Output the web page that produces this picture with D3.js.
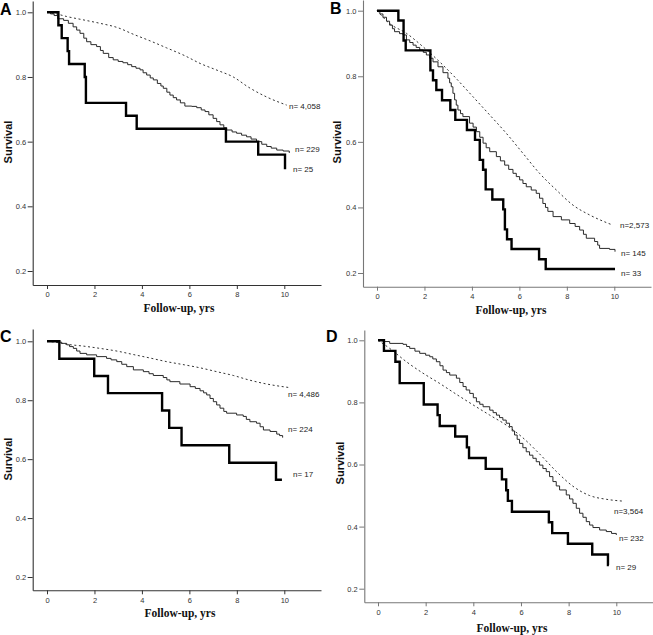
<!DOCTYPE html>
<html>
<head>
<meta charset="utf-8">
<script src="https://cdn.jsdelivr.net/npm/d3@7"></script>
<style>
html,body{margin:0;padding:0;background:#fff;}
svg{display:block;}
</style>
</head>
<body>
<svg id="chart" width="653" height="635"></svg>
<script>
// ---------------- DATA ----------------
const xTicks = [0, 2, 4, 6, 8, 10];
const yTicks = [0.2, 0.4, 0.6, 0.8, 1.0];
const panelLetters = ["A", "B", "C", "D"];
const xAxisTitle = "Follow-up, yrs";
const yAxisTitle = "Survival";

// Panel A
const aDashed = [[0,1],[0.4,0.995],[0.83,0.987],[1.5,0.977],[2.23,0.966],[3.0,0.952],[3.64,0.932],[4.3,0.913],[5.04,0.89],[5.8,0.866],[6.45,0.842],[7.2,0.82],[7.85,0.80],[8.5,0.768],[9.26,0.738],[10.1,0.713]];
const aThin = [[0,1],[0.15,0.995],[0.3,0.99],[0.45,0.98],[0.7,0.975],[0.9,0.966],[1.1,0.955],[1.25,0.945],[1.39,0.935],[1.55,0.92],[1.67,0.909],[1.85,0.9],[2.09,0.894],[2.25,0.882],[2.37,0.873],[2.6,0.86],[2.79,0.853],[3.0,0.848],[3.2,0.844],[3.4,0.838],[3.57,0.832],[3.75,0.827],[3.92,0.822],[4.05,0.813],[4.2,0.806],[4.35,0.797],[4.48,0.791],[4.65,0.78],[4.8,0.772],[4.9,0.765],[5.05,0.753],[5.18,0.744],[5.32,0.736],[5.46,0.729],[5.62,0.72],[5.81,0.71],[6.1,0.709],[6.31,0.705],[6.5,0.698],[6.66,0.693],[6.82,0.683],[7.0,0.672],[7.15,0.662],[7.29,0.652],[7.45,0.643],[7.57,0.636],[7.8,0.63],[7.99,0.626],[8.2,0.62],[8.41,0.615],[8.6,0.608],[8.83,0.6],[9.05,0.592],[9.26,0.585],[9.45,0.58],[9.68,0.574],[9.95,0.571],[10.21,0.565]];
const aThick = [[0,1],[0.48,0.96],[0.62,0.92],[0.87,0.88],[0.93,0.84],[1.59,0.80],[1.64,0.72],[3.33,0.68],[3.78,0.64],[7.54,0.60],[8.90,0.56],[10.03,0.515]];
const aLabels = ["n= 4,058", "n= 229", "n= 25"];

// Panel B
const bDashed = [[0,1],[0.53,0.961],[1.24,0.931],[1.94,0.89],[2.64,0.844],[3.34,0.793],[4.04,0.738],[4.75,0.682],[5.45,0.626],[6.15,0.565],[6.85,0.504],[7.56,0.453],[8.26,0.407],[8.96,0.377],[9.66,0.354],[9.94,0.346]];
const bThin = [[0,1],[0.12,0.99],[0.25,0.98],[0.4,0.968],[0.53,0.956],[0.65,0.945],[0.74,0.936],[0.95,0.93],[1.1,0.926],[1.24,0.911],[1.38,0.903],[1.52,0.895],[1.65,0.888],[1.8,0.88],[1.95,0.873],[2.08,0.865],[2.22,0.855],[2.36,0.844],[2.57,0.829],[2.78,0.811],[2.99,0.794],[3.06,0.78],[3.13,0.768],[3.2,0.748],[3.27,0.728],[3.34,0.712],[3.41,0.697],[3.52,0.686],[3.62,0.677],[3.9,0.657],[4.05,0.645],[4.19,0.631],[4.33,0.614],[4.47,0.596],[4.6,0.582],[4.75,0.57],[5.03,0.555],[5.2,0.542],[5.38,0.529],[5.55,0.516],[5.73,0.504],[5.87,0.494],[6.01,0.484],[6.15,0.473],[6.29,0.463],[6.5,0.453],[6.71,0.443],[6.85,0.428],[6.99,0.412],[7.1,0.4],[7.2,0.388],[7.42,0.372],[7.77,0.362],[8.12,0.351],[8.35,0.342],[8.54,0.331],[8.7,0.318],[8.82,0.306],[9.17,0.296],[9.3,0.285],[9.38,0.275],[9.8,0.272],[10.03,0.265]];
const bThick = [[0,1],[0.9,0.97],[1.12,0.909],[1.21,0.879],[2.25,0.818],[2.36,0.788],[2.5,0.758],[2.74,0.727],[3.09,0.697],[3.3,0.667],[3.79,0.636],[4.13,0.606],[4.33,0.545],[4.47,0.515],[4.58,0.455],[4.86,0.424],[5.32,0.394],[5.39,0.333],[5.48,0.303],[5.67,0.273],[6.83,0.242],[7.11,0.212],[10.03,0.212]];
const bLabels = ["n=2,573", "n= 145", "n= 33"];

// Panel C
const cDashed = [[0,1],[0.5,0.995],[0.83,0.99],[1.5,0.984],[2.23,0.976],[3.0,0.966],[3.64,0.955],[4.3,0.944],[5.04,0.931],[5.8,0.92],[6.45,0.91],[7.2,0.896],[7.85,0.884],[8.5,0.869],[9.26,0.855],[10.21,0.843]];
const cThin = [[0,1],[0.5,0.997],[0.62,0.993],[0.83,0.988],[0.95,0.982],[1.11,0.976],[1.25,0.967],[1.39,0.959],[1.67,0.954],[2.09,0.948],[2.51,0.942],[2.7,0.937],[2.94,0.931],[3.15,0.922],[3.36,0.914],[3.64,0.903],[4.06,0.897],[4.3,0.89],[4.48,0.884],[4.9,0.877],[5.05,0.869],[5.18,0.863],[5.6,0.855],[6.03,0.846],[6.25,0.84],[6.45,0.832],[6.6,0.825],[6.73,0.818],[6.87,0.806],[7.01,0.795],[7.15,0.784],[7.29,0.773],[7.45,0.762],[7.57,0.756],[7.99,0.75],[8.27,0.745],[8.4,0.735],[8.55,0.727],[8.83,0.722],[8.98,0.71],[9.12,0.699],[9.4,0.694],[9.68,0.685],[9.8,0.68],[9.93,0.673]];
const cThick = [[0,1],[0.52,0.941],[1.99,0.882],[2.57,0.824],[4.85,0.765],[5.15,0.706],[5.67,0.647],[7.68,0.588],[9.65,0.53],[9.9,0.53]];
const cLabels = ["n= 4,486", "n= 224", "n= 17"];

// Panel D
const dDashed = [[0,1],[0.49,0.974],[1.19,0.931],[1.89,0.894],[2.59,0.861],[3.29,0.826],[3.99,0.792],[4.69,0.759],[5.38,0.727],[6.08,0.686],[6.78,0.634],[7.48,0.578],[8.18,0.53],[8.88,0.50],[9.58,0.488],[10.28,0.482]];
const dThin = [[0,1],[0.21,0.996],[0.49,0.99],[1.05,0.987],[1.2,0.98],[1.33,0.974],[1.55,0.965],[1.75,0.958],[2.0,0.952],[2.17,0.947],[2.3,0.94],[2.45,0.931],[2.6,0.918],[2.73,0.904],[2.87,0.896],[3.01,0.888],[3.29,0.878],[3.43,0.864],[3.57,0.851],[3.7,0.84],[3.85,0.829],[4.0,0.815],[4.13,0.802],[4.27,0.794],[4.41,0.786],[4.69,0.775],[4.83,0.767],[4.97,0.759],[5.1,0.751],[5.24,0.743],[5.38,0.733],[5.52,0.722],[5.63,0.708],[5.73,0.695],[5.84,0.681],[5.94,0.668],[6.08,0.654],[6.22,0.641],[6.36,0.63],[6.5,0.62],[6.64,0.609],[6.78,0.598],[6.92,0.587],[7.06,0.577],[7.2,0.561],[7.34,0.545],[7.48,0.531],[7.62,0.518],[7.9,0.502],[8.04,0.489],[8.18,0.475],[8.32,0.459],[8.46,0.443],[8.6,0.43],[8.74,0.416],[8.88,0.405],[9.02,0.397],[9.3,0.389],[9.58,0.384],[9.8,0.378],[10.0,0.373]];
const dThick = [[0,1],[0.25,0.966],[0.73,0.931],[0.91,0.862],[1.92,0.793],[2.5,0.759],[2.59,0.724],[3.24,0.69],[3.73,0.655],[3.82,0.621],[4.52,0.586],[5.2,0.552],[5.38,0.517],[5.45,0.483],[5.62,0.448],[7.17,0.414],[7.31,0.379],[7.97,0.345],[8.99,0.31],[9.65,0.276],[9.69,0.276]];
const dLabels = ["n=3,564", "n= 232", "n= 29"];

// ---------------- LAYOUT (pixels) ----------------
const layouts = [
  {yAxisX:32.7, x0:47, x10:284.3, y10:12.3, y02:271, xAxisY:285, xRight:321, yTop:1, axisColor:"#333",
   letter:[0,14.5], xTitle:[179,312], yTitle:[7.5,142],
   labelPos:[[289,109],[295,152],[293,172]]},
  {yAxisX:363, x0:377, x10:614.3, y10:10.7, y02:273, xAxisY:286.7, xRight:651, yTop:0, axisColor:"#777",
   letter:[330,13.5], xTitle:[511,314], yTitle:[337,142],
   labelPos:[[620,228],[621,256],[621,276]]},
  {yAxisX:32.7, x0:47, x10:284.3, y10:341.3, y02:577, xAxisY:590.3, xRight:321, yTop:329, axisColor:"#333",
   letter:[0,342], xTitle:[180,617], yTitle:[7.5,459],
   labelPos:[[288,397],[288,432],[293,477]]},
  {yAxisX:364.3, x0:378, x10:616.3, y10:340.3, y02:588.7, xAxisY:602.3, xRight:653, yTop:330, axisColor:"#777",
   letter:[326,342], xTitle:[512,632], yTitle:[340,463],
   labelPos:[[614,514],[619,541],[616,570]]}
];

const panelData = [
  {dashed:aDashed, thin:aThin, thick:aThick, labels:aLabels},
  {dashed:bDashed, thin:bThin, thick:bThick, labels:bLabels},
  {dashed:cDashed, thin:cThin, thick:cThick, labels:cLabels},
  {dashed:dDashed, thin:dThin, thick:dThick, labels:dLabels}
];

const svg = d3.select("#chart");
const sans = "'Liberation Sans', Arial, Helvetica, sans-serif";
const serif = "'Liberation Serif', 'Times New Roman', Times, serif";

panelData.forEach((pd, i) => {
  const L = layouts[i];
  const g = svg.append("g");

  // scales: calibrated on ticks, then extended to axis line extents
  const x = d3.scaleLinear().domain([0, 10]).range([L.x0, L.x10]);
  x.domain([x.invert(L.yAxisX), x.invert(L.xRight)]).range([L.yAxisX, L.xRight]);
  const y = d3.scaleLinear().domain([0.2, 1.0]).range([L.y02, L.y10]);
  y.domain([y.invert(L.xAxisY), y.invert(L.yTop)]).range([L.xAxisY, L.yTop]);

  // x axis
  const xAxis = g.append("g")
    .attr("transform", `translate(0,${L.xAxisY})`)
    .call(d3.axisBottom(x).tickValues(xTicks).tickSize(4).tickSizeOuter(0).tickPadding(3).tickFormat(d3.format("d")));
  // y axis
  const yAxis = g.append("g")
    .attr("transform", `translate(${L.yAxisX},0)`)
    .call(d3.axisLeft(y).tickValues(yTicks).tickSize(5).tickSizeOuter(0).tickPadding(1.5).tickFormat(d3.format(".1f")));

  [xAxis, yAxis].forEach(ax => {
    ax.select(".domain").attr("stroke", L.axisColor).attr("stroke-width", 1.1);
    ax.selectAll(".tick line").attr("stroke", L.axisColor).attr("stroke-width", 1);
    ax.selectAll(".tick text").attr("fill", "#333").style("font-family", sans).style("font-size", "7.5px");
  });

  const stepLine = d3.line().x(d => x(d[0])).y(d => y(d[1])).curve(d3.curveStepAfter);
  const smoothLine = d3.line().x(d => x(d[0])).y(d => y(d[1])).curve(d3.curveMonotoneX);

  g.append("path").datum(pd.dashed).attr("d", smoothLine)
    .attr("fill", "none").attr("stroke", "#333").attr("stroke-width", 1).attr("stroke-dasharray", "2,2.6");
  g.append("path").datum(pd.thin).attr("d", stepLine)
    .attr("fill", "none").attr("stroke", "#2a2a2a").attr("stroke-width", 1);
  g.append("path").datum(pd.thick).attr("d", stepLine)
    .attr("fill", "none").attr("stroke", "#000").attr("stroke-width", 2.4).attr("stroke-linejoin", "miter");

  // n labels
  pd.labels.forEach((t, j) => {
    g.append("text").attr("x", L.labelPos[j][0]).attr("y", L.labelPos[j][1])
      .text(t).attr("fill", "#222").style("font-family", sans).style("font-size", "8px");
  });

  // panel letter
  g.append("text").attr("x", L.letter[0]).attr("y", L.letter[1]).text(panelLetters[i])
    .style("font-family", sans).style("font-weight", "bold").style("font-size", "16px").attr("fill", "#000");

  // axis titles
  g.append("text").attr("x", L.xTitle[0]).attr("y", L.xTitle[1]).attr("text-anchor", "middle")
    .text(xAxisTitle).style("font-family", serif).style("font-weight", "bold").style("font-size", "11.5px").attr("fill", "#111");
  g.append("text").attr("transform", `translate(${L.yTitle[0]},${L.yTitle[1]}) rotate(-90)`)
    .attr("text-anchor", "middle").attr("dominant-baseline", "central")
    .text(yAxisTitle).style("font-family", sans).style("font-weight", "bold").style("font-size", "11px").attr("fill", "#111");
});
</script>
</body>
</html>
